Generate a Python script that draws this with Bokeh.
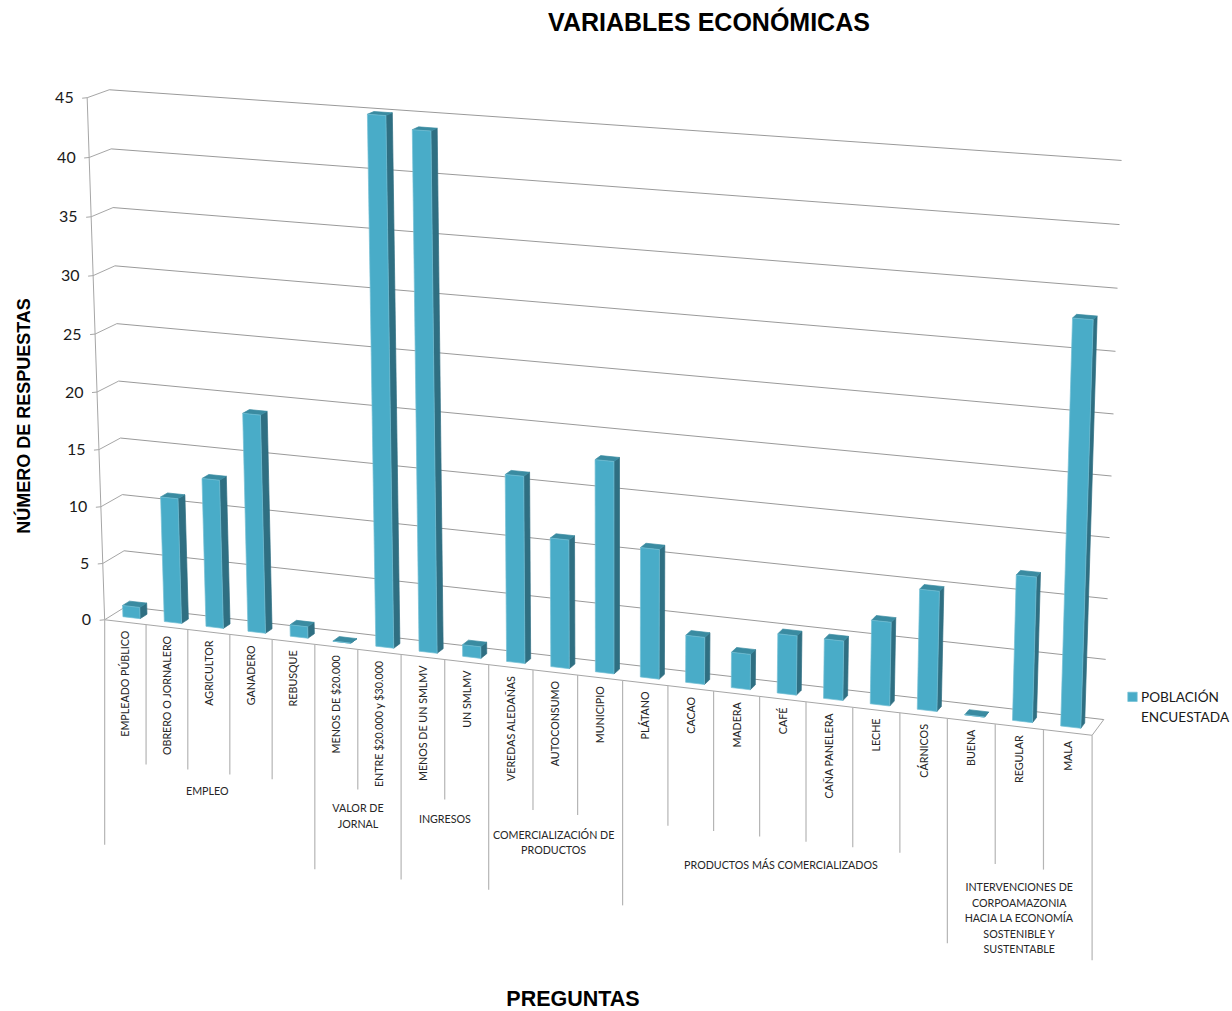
import math
import numpy as np
from bokeh.core.properties import value
from bokeh.embed import file_html
from bokeh.models import Range1d
from bokeh.plotting import figure
from bokeh.resources import INLINE

# Chart content
categories = ["EMPLEADO PÚBLICO", "OBRERO O JORNALERO", "AGRICULTOR", "GANADERO", "REBUSQUE",
              "MENOS DE $20.000", "ENTRE $20.000 y $30.000", "MENOS DE UN SMLMV", "UN SMLMV",
              "VEREDAS ALEDAÑAS", "AUTOCONSUMO", "MUNICIPIO", "PLÁTANO", "CACAO", "MADERA", "CAFÉ",
              "CAÑA PANELERA", "LECHE", "CÁRNICOS", "BUENA", "REGULAR", "MALA"]
respuestas = [1, 11, 13, 19, 1, 0, 45, 44, 1, 16, 11, 18, 11, 4, 3, 5, 5, 7, 10, 0, 12, 33]
y_ticks = [0, 5, 10, 15, 20, 25, 30, 35, 40, 45]

group_names = [["EMPLEO"], ["VALOR DE", "JORNAL"], ["INGRESOS"],
               ["COMERCIALIZACIÓN DE", "PRODUCTOS"], ["PRODUCTOS MÁS COMERCIALIZADOS"],
               ["INTERVENCIONES DE", "CORPOAMAZONIA", "HACIA LA ECONOMÍA", "SOSTENIBLE Y", "SUSTENTABLE"]]
group_sizes = [5, 2, 2, 3, 7, 3]
group_label_offsets = [158, 158.5, 159, 162, 165.5, 160]
group_label_nudges = [-2.5, 0, 0, -2, -4, -0.5]

# Camera calibration of the chart box: (along, depth, value) -> page pixel
box_points = [((0, 0, 0), (104, 619)), ((0, 0, 45), (86.7, 97.3)),
              ((0, 1, 0), (126, 605.5)), ((0, 1, 45), (109, 89)),
              ((0, 1, 10), (121, 495)), ((1, 1, 45), (1121, 160)),
              ((1, 1, 30), (1115, 350.7)), ((1, 1, 0), (1103.3, 719)),
              ((1, 0, 0), (1091.7, 734.3)), ((5 / 22, 0, 0), (314.5, 643.5)),
              ((12 / 22, 0, 0), (622, 680.5)), ((18 / 22, 0, 0), (899.3, 712.7))]

A, b = [], []
for (X, Y, Z), (px, py) in box_points:
    A.append([X, Y, Z, 1, 0, 0, 0, 0, -px * X, -px * Y, -px * Z])
    A.append([0, 0, 0, 0, X, Y, Z, 1, -py * X, -py * Y, -py * Z])
    b += [px, py]
cam = np.append(np.linalg.lstsq(np.array(A, float), np.array(b, float), rcond=None)[0], 1).reshape(3, 4)


def project(u, v, h):
    q = cam @ np.array([u, v, h, 1.0])
    return float(q[0] / q[2]), float(q[1] / q[2])


n = len(categories)
BAR_WIDTH = 0.415
BAR_SHIFT = -0.02
DEPTH_NEAR, DEPTH_FAR = 0.33, 0.66
CAT_TICK, GROUP_TICK = 140, 225
FRONT, SIDE, TOP = "#49acc8", "#2f6f82", "#3a8ba1"
AXIS_GREY, GRID_GREY, TICK_GREY = "#a6a6a6", "#9a9a9a", "#b5b5b5"
BODY = value("Lato")
HEAD = value("Liberation Sans")

p = figure(width=1232, height=1011, x_range=Range1d(0, 1232), y_range=Range1d(1011, 0),
           output_backend="svg", toolbar_location=None, min_border=0,
           x_axis_location=None, y_axis_location=None, outline_line_color=None,
           background_fill_color="white", border_fill_color="white")
p.grid.visible = False


def seg(a, b_, color, width=1.0):
    p.line([a[0], b_[0]], [a[1], b_[1]], line_color=color, line_width=width)


# Back wall, left wall and tick marks
for t in y_ticks:
    front, back, right = project(0, 0, t), project(0, 1, t), project(1, 1, t)
    seg(front, back, AXIS_GREY)
    seg(back, right, GRID_GREY)
    seg((front[0] - 5, front[1] + 0.5), front, AXIS_GREY)
    p.text([front[0] - 13.5], [front[1]], text=[str(t)], text_align="right", text_baseline="middle",
           text_font=BODY, text_font_size="16px", text_color="#1a1a1a")

# Floor outline and vertical axis
seg(project(0, 0, 0), project(0, 0, 45), AXIS_GREY)
seg(project(0, 0, 0), project(1, 0, 0), AXIS_GREY)
seg(project(1, 0, 0), project(1, 1, 0), AXIS_GREY)

# Hanging dividers of the two-level category axis
group_edges = set(np.cumsum([0] + group_sizes).tolist())
for i in range(n + 1):
    x0, y0 = project(i / n, 0, 0)
    length = GROUP_TICK if i in group_edges else CAT_TICK
    p.line([x0, x0], [y0, y0 + length], line_color=TICK_GREY, line_width=1.2)

# Category labels, hanging below the front edge
for i, name in enumerate(categories):
    a = project(i / n, 0, 0)
    c = project((i + 1) / n, 0, 0)
    xm, ym = (a[0] + c[0]) / 2, (a[1] + c[1]) / 2
    p.text([xm - 0.5], [ym + 8.5], text=[name], angle=math.pi / 2, text_align="right", text_baseline="middle",
           text_font=BODY, text_font_size="10.7px", text_color="#262626")

# Group labels
start = 0
for names, size, off, nudge in zip(group_names, group_sizes, group_label_offsets, group_label_nudges):
    a = project(start / n, 0, 0)
    c = project((start + size) / n, 0, 0)
    xm, ym = (a[0] + c[0]) / 2, (a[1] + c[1]) / 2
    for k, line in enumerate(names):
        p.text([xm + nudge], [ym + off + k * 15.4], text=[line], text_align="center", text_baseline="middle",
               text_font=BODY, text_font_size="10.7px", text_color="#262626")
    start += size

# Bars, each as three visible faces
for i, val in enumerate(respuestas):
    u0 = (i + 0.5 + BAR_SHIFT - BAR_WIDTH / 2) / n
    u1 = (i + 0.5 + BAR_SHIFT + BAR_WIDTH / 2) / n
    corners = {
        "fb0": project(u0, DEPTH_NEAR, 0), "fb1": project(u1, DEPTH_NEAR, 0),
        "ft0": project(u0, DEPTH_NEAR, val), "ft1": project(u1, DEPTH_NEAR, val),
        "bb1": project(u1, DEPTH_FAR, 0), "bt0": project(u0, DEPTH_FAR, val),
        "bt1": project(u1, DEPTH_FAR, val),
    }
    faces = [(["fb1", "bb1", "bt1", "ft1"], SIDE, SIDE),
             (["ft0", "ft1", "bt1", "bt0"], TOP, TOP),
             (["fb0", "fb1", "ft1", "ft0"], FRONT, "#74c0d6")]
    for keys, fill, edge in faces:
        p.patch([corners[k][0] for k in keys], [corners[k][1] for k in keys],
                fill_color=fill, line_color=edge, line_width=0.7)

# Titles
p.text([708.5], [21], text=["VARIABLES ECONÓMICAS"], text_align="center", text_baseline="middle",
       text_font=HEAD, text_font_style="bold", text_font_size="25px", text_color="black")
p.text([23], [415.5], text=["NÚMERO DE RESPUESTAS"], angle=math.pi / 2, text_align="center", text_baseline="middle",
       text_font=HEAD, text_font_style="bold", text_font_size="18px", text_color="black")
p.text([572.5], [998], text=["PREGUNTAS"], text_align="center", text_baseline="middle",
       text_font=HEAD, text_font_style="bold", text_font_size="21.5px", text_color="black")

# Legend
p.quad(left=[1127.3], right=[1136.7], top=[691.7], bottom=[701], fill_color=FRONT, line_color="#74c0d6", line_width=0.7)
for line, yy in zip(["POBLACIÓN", "ENCUESTADA"], [696, 716]):
    p.text([1140.5], [yy], text=[line], text_align="left", text_baseline="middle",
           text_font=BODY, text_font_size="13.6px", text_color="#1a1a1a")

open("out.html", "w").write(file_html(p, INLINE))
